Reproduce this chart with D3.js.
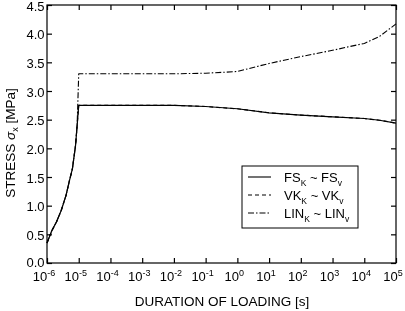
<!DOCTYPE html>
<html>
<head>
<meta charset="utf-8">
<script src="https://cdn.jsdelivr.net/npm/d3@7"></script>
<style>
body { margin: 0; background: #fff; }
svg { will-change: transform; }
text { font-family: "Liberation Sans", Arial, sans-serif; fill: #000; }
</style>
</head>
<body>
<svg id="chart" width="405" height="311"></svg>
<script>
// ---- data ----
const xTickExponents = [-6, -5, -4, -3, -2, -1, 0, 1, 2, 3, 4, 5];
const yTicks = [0, 0.5, 1.0, 1.5, 2.0, 2.5, 3.0, 3.5, 4.0, 4.5];

const fsTime   = [1e-6, 1.41e-6, 2e-6, 2.82e-6, 3.98e-6, 5.01e-6, 6.31e-6, 7.94e-6, 1e-5, 1e-4, 1e-3, 1e-2, 1e-1, 1e0, 1e1, 1e2, 1e3, 1e4, 3e4, 1e5];
const fsStress = [0.35, 0.56, 0.72, 0.92, 1.18, 1.42, 1.64, 2.05, 2.75, 2.75, 2.75, 2.75, 2.73, 2.69, 2.62, 2.58, 2.55, 2.52, 2.49, 2.44];

const vkTime   = [1e-6, 1.41e-6, 2e-6, 2.82e-6, 3.98e-6, 5.01e-6, 6.31e-6, 7.94e-6, 1e-5, 1e-4, 1e-3, 1e-2, 1e-1, 1e0, 1e1, 1e2, 1e3, 1e4, 3e4, 1e5];
const vkStress = [0.35, 0.56, 0.72, 0.92, 1.18, 1.42, 1.64, 2.05, 2.75, 2.75, 2.75, 2.75, 2.73, 2.69, 2.62, 2.58, 2.55, 2.52, 2.49, 2.44];

const linTime   = [1e-6, 1.41e-6, 2e-6, 2.82e-6, 3.98e-6, 5.01e-6, 6.31e-6, 7.94e-6, 8.9e-6, 1e-5, 1e-4, 1e-3, 1e-2, 1e-1, 1e0, 1e1, 1e2, 1e3, 1e4, 3e4, 1e5];
const linStress = [0.35, 0.56, 0.72, 0.92, 1.18, 1.42, 1.64, 2.05, 2.4, 3.3, 3.3, 3.3, 3.3, 3.31, 3.34, 3.48, 3.6, 3.71, 3.83, 3.95, 4.17];

const legendItems = [
  { base1: "FS", base2: "FS", dash: null },
  { base1: "VK", base2: "VK", dash: "4,3" },
  { base1: "LIN", base2: "LIN", dash: "6,2,1.5,2" }
];

// ---- layout ----
const L = 47, R = 396, T = 5, B = 263;
const FS = 13;
const svg = d3.select("#chart");
const x = d3.scaleLog().domain([1e-6, 1e5]).range([L, R]);
const y = d3.scaleLinear().domain([0, 4.5]).range([B, T]);
const tickLen = 5;

svg.append("rect").attr("x", L).attr("y", T).attr("width", R - L).attr("height", B - T)
  .attr("fill", "none").attr("stroke", "#000").attr("stroke-width", 1.2);

const xTickVals = xTickExponents.map(e => Math.pow(10, e));

const gB = svg.append("g").attr("transform", `translate(0,${B})`)
  .call(d3.axisBottom(x).tickValues(xTickVals).tickSize(-tickLen).tickFormat(""));
const gT = svg.append("g").attr("transform", `translate(0,${T})`)
  .call(d3.axisTop(x).tickValues(xTickVals).tickSize(-tickLen).tickFormat(""));
const gL = svg.append("g").attr("transform", `translate(${L},0)`)
  .call(d3.axisLeft(y).tickValues(yTicks).tickSize(-tickLen).tickFormat(""));
const gR = svg.append("g").attr("transform", `translate(${R},0)`)
  .call(d3.axisRight(y).tickValues(yTicks).tickSize(-tickLen).tickFormat(""));
[gB, gT, gL, gR].forEach(g => {
  g.select(".domain").remove();
  g.selectAll("line").attr("stroke", "#000").attr("stroke-width", 1.2);
});

// y tick labels
svg.append("g").selectAll("text").data(yTicks).join("text")
  .attr("x", L - 2.5).attr("y", d => y(d)).attr("dy", d => d === 0 ? "0.3em" : "0.44em")
  .attr("text-anchor", "end").attr("font-size", FS)
  .text(d => d3.format(".1f")(d));

// x tick labels 10^e
const xl = svg.append("g").selectAll("text").data(xTickExponents).join("text")
  .attr("x", d => x(Math.pow(10, d)) - 3).attr("y", B + 17.5)
  .attr("text-anchor", "middle").attr("font-size", FS);
xl.append("tspan").text("10");
xl.append("tspan").attr("dy", -5).attr("font-size", 9).text(d => String(d));

// axis titles
svg.append("text").attr("x", 222).attr("y", 306).attr("text-anchor", "middle")
  .attr("font-size", 13.5).text("DURATION OF LOADING [s]");

const yt = svg.append("text").attr("transform", `translate(15,143) rotate(-90)`)
  .attr("text-anchor", "middle").attr("font-size", 13.5);
yt.append("tspan").text("STRESS ");
yt.append("tspan").attr("font-style", "italic").text("σ");
yt.append("tspan").attr("font-size", 9).attr("dy", 3).text("x");
yt.append("tspan").attr("dy", -3).text(" [MPa]");

// curves
const line = d3.line().x(d => x(d[0])).y(d => y(d[1]));
function draw(times, vals, dash, w) {
  const p = svg.append("path").datum(times.map((t, i) => [t, vals[i]]))
    .attr("d", line).attr("fill", "none").attr("stroke", "#000").attr("stroke-width", w)
    .attr("stroke-linejoin", "round");
  if (dash) p.attr("stroke-dasharray", dash);
}
draw(linTime, linStress, "6,2,1.5,2", 1.1);
draw(vkTime, vkStress, "4,3", 1.2);
draw(fsTime, fsStress, null, 1.2);

// legend
const lg = svg.append("g");
lg.append("rect").attr("x", 242).attr("y", 166).attr("width", 116).attr("height", 62)
  .attr("fill", "#fff").attr("stroke", "#000").attr("stroke-width", 1);
legendItems.forEach((it, i) => {
  const cy = 177 + i * 18;
  const ln = lg.append("line").attr("x1", 248).attr("x2", 271).attr("y1", cy).attr("y2", cy)
    .attr("stroke", "#000").attr("stroke-width", 1.1);
  if (it.dash) ln.attr("stroke-dasharray", it.dash);
  const t = lg.append("text").attr("x", 284).attr("y", cy + 4.5).attr("font-size", FS);
  t.append("tspan").text(it.base1);
  t.append("tspan").attr("font-size", 8.5).attr("dy", 4).text("K");
  t.append("tspan").attr("dy", -4).text(" ~ " + it.base2);
  t.append("tspan").attr("font-size", 8.5).attr("dy", 4).text("v");
});
</script>
</body>
</html>
